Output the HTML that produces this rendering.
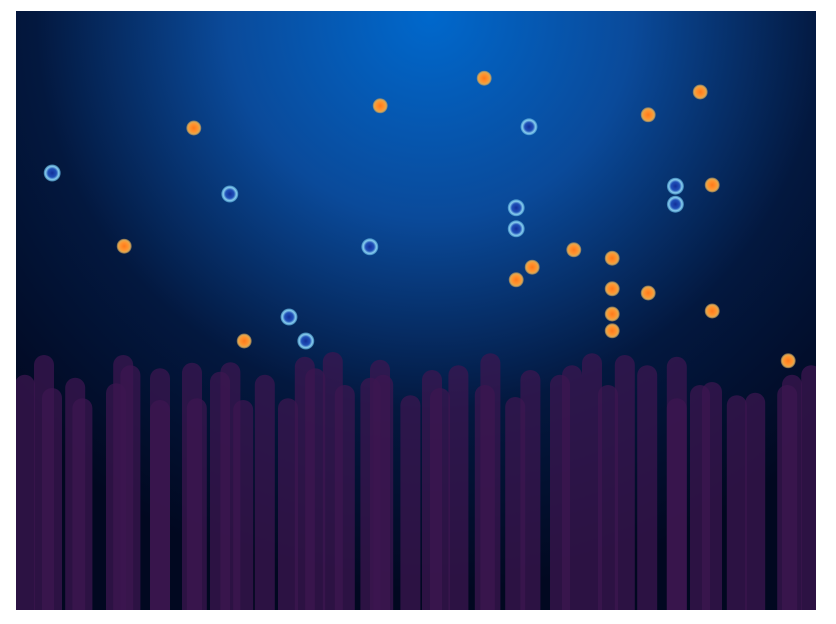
<!DOCTYPE html>
<html><head><meta charset="utf-8"><style>
html,body{margin:0;padding:0;background:#fff;width:836px;height:624px;overflow:hidden;font-family:"Liberation Sans",sans-serif}
svg{display:block}
</style></head><body>
<svg id="chart" width="836" height="624" viewBox="0 0 836 624" xmlns="http://www.w3.org/2000/svg">
<defs>
<radialGradient id="bg" cx="430" cy="15" r="580" gradientUnits="userSpaceOnUse">
<stop offset="0" stop-color="#0068cc"/>
<stop offset="0.35" stop-color="#0a4a9a"/>
<stop offset="0.68" stop-color="#03183f"/>
<stop offset="1" stop-color="#010820"/>
</radialGradient>
<radialGradient id="og" cx="0.5" cy="0.5" r="0.5">
<stop offset="0" stop-color="#ff7a1a"/>
<stop offset="0.55" stop-color="#ff9530"/>
<stop offset="0.8" stop-color="#e0a850"/>
<stop offset="1" stop-color="#c8a060" stop-opacity="0.5"/>
</radialGradient>
<radialGradient id="bgd" cx="0.5" cy="0.5" r="0.5">
<stop offset="0" stop-color="#12309a"/>
<stop offset="0.5" stop-color="#2050b8"/>
<stop offset="0.78" stop-color="#8ad0f0"/>
<stop offset="1" stop-color="#5ab0e0" stop-opacity="0.6"/>
</radialGradient>
<clipPath id="clip"><rect x="16" y="11" width="800" height="599"/></clipPath>
</defs>
<rect x="16" y="11" width="800" height="599" fill="url(#bg)"/>
<g id="bars" clip-path="url(#clip)"></g>
<g id="points"></g>
</svg>
<script>
const barX=[1.1,3.5,4.5,7.4,8.3,12.5,13.4,14.3,18,18,22,22.6,25.5,26.8,28.4,31.1,34,36.1,37.4,39.6,41.1,44.3,45.5,45.9,49.3,52,53,55.3,58.6,59.3,62.4,64.3,68,69.5,72,74,76.1,78.9,82.6,82.6,85.5,87,90.1,92.4,96.4,97,99.4];
const barH=[39.2,42.5,37,38.7,35.3,37.8,42.5,40.8,40.3,35,41.2,35.3,39.7,41.3,35,39.2,35.3,42.2,40.3,43,37.5,38.7,41.7,39.2,35.8,40,37,40.8,37.5,42.8,35.5,40,39.2,40.8,42.8,37.5,42.5,40.8,42.2,35.3,37.5,38,35.8,36.2,37.5,39.2,40.8];
const orangeX=[22.1,45.4,58.4,85.4,78.9,86.9,13.4,69.6,74.4,64.4,62.4,74.4,78.9,86.9,74.4,74.4,28.4,96.4];
const orangeY=[80.5,84.2,88.8,86.5,82.7,71,60.8,60.2,58.8,57.3,55.2,53.7,53,50,49.5,46.7,45,41.7];
const blueX=[4.4,26.6,64,82.3,82.3,62.4,62.4,44.1,34,36.1];
const blueY=[73,69.5,80.7,70.8,67.8,67.2,63.7,60.7,49,45];
const xs=v=>16+v*8, ys=v=>610-v*6;
const NS="http://www.w3.org/2000/svg";
const bars=document.getElementById('bars');
barX.forEach((v,i)=>{
  const r=document.createElementNS(NS,'rect');
  
  
  const top=ys(barH[i]);
  r.setAttribute('x',xs(v)-10);r.setAttribute('y',top);
  r.setAttribute('width',20);r.setAttribute('height',640-top);
  r.setAttribute('rx',10);r.setAttribute('fill','#3d1650');r.setAttribute('fill-opacity','0.72');
  bars.appendChild(r);
});
const pts=document.getElementById('points');
orangeX.forEach((v,i)=>{
  const c=document.createElementNS(NS,'circle');
  
  
  c.setAttribute('cx',xs(v)+1);c.setAttribute('cy',ys(orangeY[i])+1);c.setAttribute('r',7.5);
  c.setAttribute('fill','url(#og)');
  pts.appendChild(c);
});
blueX.forEach((v,i)=>{
  const c=document.createElementNS(NS,'circle');
  
  
  c.setAttribute('cx',xs(v)+1);c.setAttribute('cy',ys(blueY[i])+1);c.setAttribute('r',8.5);
  c.setAttribute('fill','url(#bgd)');
  pts.appendChild(c);
});
</script>
</body></html>
